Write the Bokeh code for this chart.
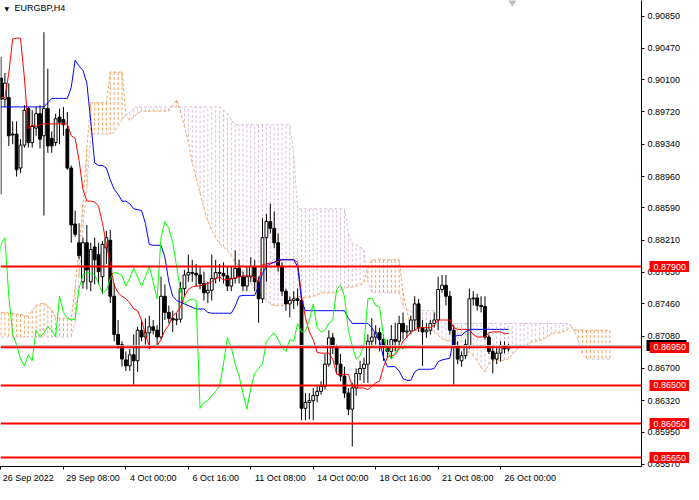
from bokeh.plotting import figure
from bokeh.models import (ColumnDataSource, Range1d, FixedTicker, LinearAxis,
                          PrintfTickFormatter, Span, Label)
from bokeh.embed import file_html
from bokeh.resources import INLINE

symbol = "EURGBP,H4"

# H4 candles, 26 Sep 2022 16:00 .. 26 Oct 2022 08:00
opens = [
    0.9012, 0.8987, 0.8989, 0.8946, 0.8946, 0.8906, 0.8933, 0.8976, 0.8936, 0.8953,
    0.8970, 0.8944, 0.8976, 0.8941, 0.8936, 0.8966, 0.8963, 0.8952, 0.8906, 0.8840,
    0.8818, 0.8772, 0.8818, 0.8772, 0.8813, 0.8804, 0.8778, 0.8812, 0.8821, 0.8755,
    0.8710, 0.8698, 0.8680, 0.8673, 0.8686, 0.8679, 0.8715, 0.8707, 0.8712, 0.8719,
    0.8715, 0.8707, 0.8755, 0.8736, 0.8729, 0.8727, 0.8728, 0.8764, 0.8780, 0.8783,
    0.8782, 0.8780, 0.8770, 0.8759, 0.8762, 0.8776, 0.8783, 0.8782, 0.8779, 0.8767,
    0.8776, 0.8788, 0.8778, 0.8767, 0.8778, 0.8790, 0.8772, 0.8752, 0.8824, 0.8843,
    0.8835, 0.8818, 0.8790, 0.8761, 0.8746, 0.8750, 0.8752, 0.8750, 0.8623, 0.8630,
    0.8632, 0.8638, 0.8643, 0.8649, 0.8675, 0.8706, 0.8695, 0.8675, 0.8661, 0.8641,
    0.8622, 0.8647, 0.8664, 0.8670, 0.8675, 0.8702, 0.8707, 0.8712, 0.8704, 0.8695,
    0.8690, 0.8704, 0.8702, 0.8723, 0.8713, 0.8714, 0.8727, 0.8746, 0.8718, 0.8713,
    0.8715, 0.8723, 0.8727, 0.8763, 0.8768, 0.8755, 0.8715, 0.8697, 0.8679, 0.8685,
    0.8697, 0.8752, 0.8753, 0.8744, 0.8743, 0.8707, 0.8690, 0.8681, 0.8688, 0.8697,
    0.8693,
]
highs = [
    0.9037, 0.9018, 0.9006, 0.8961, 0.8961, 0.8940, 0.8980, 0.8978, 0.8974, 0.8978,
    0.8980, 0.9066, 0.9023, 0.8949, 0.8970, 0.8976, 0.8978, 0.8972, 0.8909, 0.8856,
    0.8841, 0.8824, 0.8839, 0.8818, 0.8824, 0.8818, 0.8820, 0.8832, 0.8833, 0.8770,
    0.8727, 0.8702, 0.8690, 0.8693, 0.8710, 0.8719, 0.8727, 0.8729, 0.8732, 0.8727,
    0.8721, 0.8778, 0.8769, 0.8744, 0.8738, 0.8735, 0.8772, 0.8786, 0.8804, 0.8798,
    0.8793, 0.8790, 0.8784, 0.8772, 0.8804, 0.8798, 0.8793, 0.8795, 0.8790, 0.8790,
    0.8809, 0.8798, 0.8784, 0.8790, 0.8801, 0.8798, 0.8778, 0.8847, 0.8852, 0.8864,
    0.8855, 0.8829, 0.8795, 0.8764, 0.8755, 0.8761, 0.8764, 0.8755, 0.8641, 0.8641,
    0.8647, 0.8649, 0.8655, 0.8687, 0.8715, 0.8712, 0.8698, 0.8687, 0.8672, 0.8647,
    0.8653, 0.8670, 0.8679, 0.8683, 0.8710, 0.8729, 0.8721, 0.8718, 0.8710, 0.8704,
    0.8721, 0.8724, 0.8732, 0.8736, 0.8721, 0.8732, 0.8755, 0.8752, 0.8727, 0.8723,
    0.8727, 0.8736, 0.8778, 0.8780, 0.8780, 0.8761, 0.8721, 0.8702, 0.8690, 0.8704,
    0.8764, 0.8761, 0.8758, 0.8755, 0.8755, 0.8710, 0.8696, 0.8695, 0.8702, 0.8702,
    0.8699,
]
lows = [
    0.8875, 0.8978, 0.8932, 0.8934, 0.8896, 0.8900, 0.8930, 0.8930, 0.8930, 0.8944,
    0.8929, 0.8850, 0.8924, 0.8924, 0.8932, 0.8934, 0.8944, 0.8904, 0.8818, 0.8825,
    0.8799, 0.8764, 0.8763, 0.8761, 0.8769, 0.8769, 0.8758, 0.8793, 0.8747, 0.8702,
    0.8693, 0.8672, 0.8667, 0.8667, 0.8651, 0.8666, 0.8702, 0.8698, 0.8693, 0.8710,
    0.8696, 0.8704, 0.8727, 0.8723, 0.8713, 0.8721, 0.8724, 0.8755, 0.8772, 0.8772,
    0.8766, 0.8763, 0.8750, 0.8747, 0.8750, 0.8770, 0.8772, 0.8770, 0.8761, 0.8761,
    0.8770, 0.8770, 0.8761, 0.8761, 0.8772, 0.8761, 0.8724, 0.8747, 0.8772, 0.8829,
    0.8812, 0.8784, 0.8755, 0.8738, 0.8730, 0.8740, 0.8744, 0.8609, 0.8609, 0.8610,
    0.8609, 0.8630, 0.8639, 0.8645, 0.8672, 0.8687, 0.8664, 0.8655, 0.8635, 0.8615,
    0.8578, 0.8638, 0.8656, 0.8653, 0.8653, 0.8695, 0.8698, 0.8690, 0.8679, 0.8683,
    0.8681, 0.8690, 0.8695, 0.8704, 0.8706, 0.8710, 0.8715, 0.8713, 0.8673, 0.8706,
    0.8710, 0.8718, 0.8715, 0.8759, 0.8744, 0.8710, 0.8651, 0.8675, 0.8672, 0.8681,
    0.8693, 0.8744, 0.8738, 0.8736, 0.8704, 0.8687, 0.8664, 0.8675, 0.8678, 0.8688,
    0.8690,
]
closes = [
    0.8987, 0.9006, 0.8944, 0.8945, 0.8904, 0.8933, 0.8974, 0.8936, 0.8955, 0.8970,
    0.8940, 0.8976, 0.8932, 0.8932, 0.8964, 0.8960, 0.8957, 0.8906, 0.8839, 0.8828,
    0.8803, 0.8818, 0.8786, 0.8810, 0.8798, 0.8784, 0.8816, 0.8824, 0.8755, 0.8710,
    0.8698, 0.8681, 0.8673, 0.8686, 0.8679, 0.8715, 0.8707, 0.8712, 0.8719, 0.8715,
    0.8707, 0.8755, 0.8736, 0.8729, 0.8727, 0.8728, 0.8764, 0.8780, 0.8783, 0.8782,
    0.8780, 0.8770, 0.8759, 0.8762, 0.8776, 0.8783, 0.8782, 0.8779, 0.8767, 0.8776,
    0.8788, 0.8778, 0.8767, 0.8778, 0.8790, 0.8772, 0.8752, 0.8824, 0.8843, 0.8835,
    0.8818, 0.8790, 0.8761, 0.8746, 0.8750, 0.8752, 0.8750, 0.8623, 0.8630, 0.8632,
    0.8638, 0.8643, 0.8649, 0.8675, 0.8706, 0.8695, 0.8675, 0.8661, 0.8641, 0.8622,
    0.8647, 0.8664, 0.8670, 0.8675, 0.8702, 0.8707, 0.8712, 0.8704, 0.8695, 0.8690,
    0.8704, 0.8702, 0.8723, 0.8713, 0.8714, 0.8727, 0.8746, 0.8718, 0.8713, 0.8715,
    0.8723, 0.8727, 0.8763, 0.8768, 0.8755, 0.8715, 0.8697, 0.8681, 0.8685, 0.8698,
    0.8752, 0.8753, 0.8744, 0.8743, 0.8707, 0.8690, 0.8681, 0.8688, 0.8695, 0.8693,
    0.8697,
]

# Ichimoku lines
tenkan = [
    0.8989, 0.8989, 0.9018, 0.9058, 0.9059, 0.9059, 0.9012, 0.8952, 0.8957, 0.8955,
    0.8957, 0.8958, 0.8958, 0.8958, 0.8958, 0.8958, 0.8958, 0.8958, 0.8944, 0.8941,
    0.8915, 0.8881, 0.8867, 0.8867, 0.8866, 0.8861, 0.8841, 0.8816, 0.8793, 0.8768,
    0.8759, 0.8755, 0.8752, 0.8747, 0.8740, 0.8738, 0.8727, 0.8710, 0.8696, 0.8696,
    0.8697, 0.8704, 0.8715, 0.8721, 0.8732, 0.8736, 0.8742, 0.8755, 0.8763, 0.8766,
    0.8767, 0.8767, 0.8769, 0.8770, 0.8772, 0.8776, 0.8778, 0.8774, 0.8775, 0.8775,
    0.8777, 0.8778, 0.8779, 0.8779, 0.8779, 0.8777, 0.8772, 0.8792, 0.8793, 0.8794,
    0.8795, 0.8796, 0.8798, 0.8798, 0.8798, 0.8798, 0.8795, 0.8755, 0.8730, 0.8713,
    0.8704, 0.8689, 0.8688, 0.8688, 0.8688, 0.8681, 0.8663, 0.8663, 0.8663, 0.8663,
    0.8649, 0.8647, 0.8647, 0.8647, 0.8645, 0.8649, 0.8653, 0.8655, 0.8672, 0.8683,
    0.8685, 0.8686, 0.8693, 0.8702, 0.8707, 0.8713, 0.8715, 0.8718, 0.8718, 0.8718,
    0.8718, 0.8721, 0.8727, 0.8727, 0.8727, 0.8727, 0.8718, 0.8716, 0.8716, 0.8716,
    0.8715, 0.8710, 0.8707, 0.8707, 0.8707, 0.8712, 0.8713, 0.8713, 0.8713, 0.8711,
    0.8711,
]
kijun = [
    0.8978, 0.8978, 0.8978, 0.8978, 0.8978, 0.8978, 0.8978, 0.8978, 0.8978, 0.8978,
    0.8978, 0.8978, 0.8983, 0.8988, 0.8988, 0.8988, 0.8988, 0.8988, 0.9001, 0.9033,
    0.9026, 0.9021, 0.9006, 0.8961, 0.8912, 0.8909, 0.8909, 0.8906, 0.8892, 0.8881,
    0.8875, 0.8867, 0.8867, 0.8864, 0.8858, 0.8857, 0.8856, 0.8841, 0.8816, 0.8815,
    0.8815, 0.8815, 0.8801, 0.8772, 0.8755, 0.8750, 0.8748, 0.8746, 0.8744, 0.8742,
    0.8740, 0.8740, 0.8740, 0.8736, 0.8735, 0.8735, 0.8735, 0.8735, 0.8735, 0.8735,
    0.8743, 0.8755, 0.8756, 0.8756, 0.8756, 0.8756, 0.8767, 0.8782, 0.8790, 0.8793,
    0.8795, 0.8798, 0.8798, 0.8798, 0.8798, 0.8798, 0.8790, 0.8750, 0.8738, 0.8738,
    0.8738, 0.8738, 0.8738, 0.8738, 0.8738, 0.8738, 0.8738, 0.8738, 0.8738, 0.8729,
    0.8723, 0.8723, 0.8723, 0.8723, 0.8723, 0.8718, 0.8710, 0.8702, 0.8683, 0.8672,
    0.8672, 0.8672, 0.8667, 0.8658, 0.8656, 0.8656, 0.8666, 0.8669, 0.8669, 0.8669,
    0.8669, 0.8670, 0.8678, 0.8680, 0.8681, 0.8682, 0.8707, 0.8709, 0.8709, 0.8713,
    0.8716, 0.8716, 0.8716, 0.8716, 0.8716, 0.8716, 0.8716, 0.8716, 0.8716, 0.8716,
    0.8716,
]
# cloud, already in its plotted position (26 bars ahead of the candles)
senkou_a = [
    0.8736, 0.8736, 0.8735, 0.8735, 0.8734, 0.8734, 0.8732, 0.8732, 0.8738, 0.8744,
    0.8746, 0.8747, 0.8744, 0.8739, 0.8730, 0.8729, 0.8729, 0.8729, 0.8729, 0.8766,
    0.8812, 0.8864, 0.8929, 0.8983, 0.8983, 0.8983, 0.8983, 0.8983, 0.9019, 0.9019,
    0.9019, 0.9019, 0.8968, 0.8962, 0.8966, 0.8970, 0.8973, 0.8973, 0.8973, 0.8973,
    0.8973, 0.8973, 0.8973, 0.8973, 0.8980, 0.8986, 0.8972, 0.8955, 0.8937, 0.8912,
    0.8894, 0.8876, 0.8859, 0.8843, 0.8833, 0.8824, 0.8817, 0.8813, 0.8809, 0.8803,
    0.8795, 0.8790, 0.8784, 0.8777, 0.8770, 0.8763, 0.8759, 0.8754, 0.8750, 0.8746,
    0.8744, 0.8744, 0.8744, 0.8746, 0.8750, 0.8752, 0.8755, 0.8754, 0.8753, 0.8754,
    0.8755, 0.8756, 0.8759, 0.8759, 0.8759, 0.8759, 0.8759, 0.8762, 0.8764, 0.8766,
    0.8766, 0.8767, 0.8768, 0.8771, 0.8791, 0.8798, 0.8798, 0.8798, 0.8798, 0.8798,
    0.8798, 0.8798, 0.8798, 0.8759, 0.8738, 0.8718, 0.8715, 0.8715, 0.8715, 0.8715,
    0.8715, 0.8713, 0.8709, 0.8705, 0.8703, 0.8702, 0.8702, 0.8698, 0.8694, 0.8691,
    0.8689, 0.8685, 0.8679, 0.8671, 0.8666, 0.8675, 0.8679, 0.8681, 0.8679, 0.8680,
    0.8681, 0.8687, 0.8691, 0.8696, 0.8696, 0.8698, 0.8701, 0.8702, 0.8703, 0.8704,
    0.8707, 0.8710, 0.8712, 0.8712, 0.8713, 0.8715, 0.8719, 0.8716, 0.8715, 0.8715,
    0.8715, 0.8715, 0.8715, 0.8715, 0.8715, 0.8715, 0.8715,
]
senkou_b = [
    0.8707, 0.8707, 0.8707, 0.8707, 0.8707, 0.8707, 0.8707, 0.8707, 0.8707, 0.8707,
    0.8707, 0.8707, 0.8707, 0.8707, 0.8707, 0.8707, 0.8707, 0.8707, 0.8707, 0.8724,
    0.8778, 0.8835, 0.8881, 0.8946, 0.8946, 0.8946, 0.8946, 0.8946, 0.8946, 0.8948,
    0.8955, 0.8963, 0.8969, 0.8972, 0.8976, 0.8978, 0.8978, 0.8978, 0.8978, 0.8978,
    0.8978, 0.8978, 0.8978, 0.8978, 0.8978, 0.8978, 0.8978, 0.8978, 0.8978, 0.8978,
    0.8978, 0.8978, 0.8978, 0.8978, 0.8978, 0.8978, 0.8978, 0.8974, 0.8970, 0.8963,
    0.8957, 0.8957, 0.8957, 0.8957, 0.8957, 0.8957, 0.8957, 0.8957, 0.8957, 0.8957,
    0.8957, 0.8957, 0.8957, 0.8957, 0.8957, 0.8921, 0.8858, 0.8858, 0.8858, 0.8858,
    0.8858, 0.8858, 0.8858, 0.8858, 0.8858, 0.8858, 0.8858, 0.8858, 0.8858, 0.8829,
    0.8817, 0.8816, 0.8813, 0.8810, 0.8772, 0.8759, 0.8759, 0.8759, 0.8759, 0.8759,
    0.8759, 0.8759, 0.8759, 0.8743, 0.8739, 0.8738, 0.8738, 0.8738, 0.8738, 0.8738,
    0.8738, 0.8738, 0.8730, 0.8723, 0.8723, 0.8723, 0.8723, 0.8723, 0.8723, 0.8723,
    0.8723, 0.8723, 0.8723, 0.8723, 0.8723, 0.8723, 0.8723, 0.8723, 0.8723, 0.8723,
    0.8723, 0.8723, 0.8723, 0.8723, 0.8723, 0.8723, 0.8723, 0.8723, 0.8723, 0.8723,
    0.8723, 0.8723, 0.8723, 0.8723, 0.8723, 0.8723, 0.8721, 0.8713, 0.8701, 0.8686,
    0.8681, 0.8681, 0.8681, 0.8681, 0.8681, 0.8681, 0.8681,
]
chikou_shift = 26

levels = [0.8790, 0.8695, 0.8650, 0.8605, 0.8565]

price_ticks = [0.90850, 0.90470, 0.90100, 0.89720, 0.89340, 0.88960, 0.88590,
               0.88210, 0.87830, 0.87460, 0.87080, 0.86700, 0.86320, 0.85950,
               0.85570]
time_ticks = [0, 16, 32, 48, 64, 80, 96, 112, 128]
time_labels = ["26 Sep 2022", "29 Sep 08:00", "4 Oct 00:00", "6 Oct 16:00",
               "11 Oct 08:00", "14 Oct 00:00", "18 Oct 16:00", "21 Oct 08:00",
               "26 Oct 00:00"]

FONT = "Liberation Sans"
SAND = "#f4a460"
THISTLE = "#d8bfd8"
FRAME_W, FRAME_H = 641, 466
X0, X1 = -0.125, 164.1
Y0, Y1 = 0.85545, 0.91033

p = figure(frame_width=FRAME_W, frame_height=FRAME_H,
           x_range=Range1d(X0, X1), y_range=Range1d(Y0, Y1),
           y_axis_location="right", output_backend="svg",
           toolbar_location=None, tools="")
p.min_border_left = 0
p.min_border_top = 0
p.min_border_right = 42
p.min_border_bottom = 0
p.outline_line_color = None
p.grid.visible = False

# price axis
p.yaxis.ticker = FixedTicker(ticks=price_ticks, minor_ticks=[])
p.yaxis.formatter = PrintfTickFormatter(format="%.5f")
p.yaxis.major_tick_in = 0
p.yaxis.major_tick_out = 3
p.yaxis.major_label_standoff = 3
p.yaxis.major_label_text_font = FONT
p.yaxis.major_label_text_font_size = "9px"
p.yaxis.major_label_text_color = "black"
p.yaxis.axis_line_color = "black"


def price_box_axis(values, color):
    # a second right axis whose thick ticks reach back over the price
    # labels, with white labels pulled onto them
    return LinearAxis(ticker=FixedTicker(ticks=values, minor_ticks=[]),
                      formatter=PrintfTickFormatter(format="%.5f"),
                      axis_line_color=None,
                      major_tick_line_color=color,
                      major_tick_line_width=11,
                      major_tick_in=37, major_tick_out=3,
                      major_label_standoff=-36,
                      major_label_text_font=FONT,
                      major_label_text_font_size="9px",
                      major_label_text_color="white")


p.add_layout(price_box_axis([closes[-1]], "black"), "right")   # bid
p.add_layout(price_box_axis(levels, "#ff0000"), "right")

# time axis: tick marks on the main axis, labels on a second axis whose
# ticks are moved right so each centred label starts just after its tick
p.xaxis.ticker = FixedTicker(ticks=time_ticks, minor_ticks=[])
p.xaxis.major_label_overrides = {t: "" for t in time_ticks}
p.xaxis.major_label_standoff = 0
p.xaxis.major_tick_in = 0
p.xaxis.major_tick_out = 3
p.xaxis.axis_line_color = "black"

px_per_bar = FRAME_W / (X1 - X0)
label_pos = [t + (2 + 2.3 * len(s)) / px_per_bar
             for t, s in zip(time_ticks, time_labels)]
time_axis = LinearAxis(ticker=FixedTicker(ticks=label_pos, minor_ticks=[]),
                       major_label_overrides=dict(zip(label_pos, time_labels)),
                       axis_line_color=None, major_tick_line_color=None,
                       major_tick_in=0, major_tick_out=0,
                       major_label_standoff=3,
                       major_label_text_font=FONT,
                       major_label_text_font_size="9px",
                       major_label_text_color="black")
p.add_layout(time_axis, "below")

# cloud
k = list(range(len(senkou_a)))
cloud = ColumnDataSource(dict(
    k=k, a=senkou_a, b=senkou_b,
    color=[SAND if a >= b else THISTLE for a, b in zip(senkou_a, senkou_b)]))
p.segment(x0="k", y0="a", x1="k", y1="b", source=cloud,
          line_color="color", line_width=1, line_dash="3 2")
p.line(k, senkou_a, line_color=SAND, line_width=1, line_dash="3 2")
p.line(k, senkou_b, line_color=THISTLE, line_width=1, line_dash="3 2")

# candles
idx = list(range(len(closes)))
bars = ColumnDataSource(dict(
    x=idx, high=highs, low=lows,
    top=[max(o, c) for o, c in zip(opens, closes)],
    bottom=[min(o, c) for o, c in zip(opens, closes)],
    fill=["white" if c > o else "black" for o, c in zip(opens, closes)]))
p.segment(x0="x", y0="high", x1="x", y1="low", source=bars,
          line_color="black", line_width=1)
p.vbar(x="x", top="top", bottom="bottom", width=0.72, source=bars,
       fill_color="fill", line_color="black", line_width=1)

# indicator lines
p.line(idx, tenkan, line_color="#ff0000", line_width=1)
p.line(idx, kijun, line_color="#0000ff", line_width=1)
p.line([i - chikou_shift for i in idx], closes, line_color="#00ff00",
       line_width=1)

# bid line and chart-shift marker
p.add_layout(Span(location=closes[-1], dimension="width",
                  line_color="#c0c0c0", line_width=1))
p.scatter(x=[len(closes)], y=[Y1], marker="inverted_triangle", size=10,
          fill_color="#c0c0c0", line_color="#c0c0c0")

# horizontal levels
for lv in levels:
    p.add_layout(Span(location=lv, dimension="width",
                      line_color="#ff0000", line_width=2))

# chart caption
p.add_layout(Label(x=X0, y=Y1, x_offset=4, y_offset=-4, text="\u25bc",
                   text_baseline="top", text_font="DejaVu Sans",
                   text_font_size="6px", text_color="black"))
p.add_layout(Label(x=X0, y=Y1, x_offset=14, y_offset=-2, text=symbol,
                   text_baseline="top", text_font=FONT,
                   text_font_size="9px", text_color="black"))

open("out.html", "w").write(file_html(p, INLINE))
